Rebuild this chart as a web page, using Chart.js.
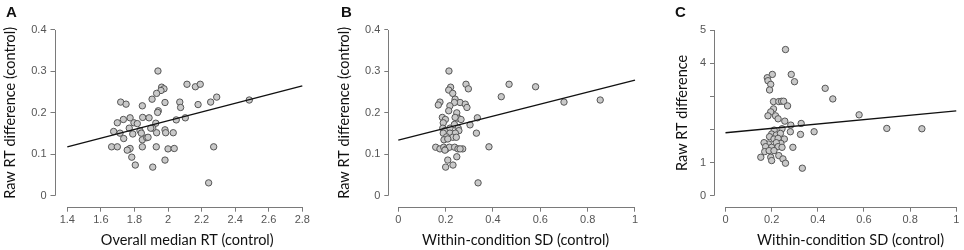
<!DOCTYPE html>
<html>
<head>
<meta charset="utf-8">
<script src="https://cdn.jsdelivr.net/npm/chart.js@4.4.1/dist/chart.umd.min.js"></script>
<style>
  html, body { margin: 0; padding: 0; background: #fff; overflow: hidden; }
  body { width: 964px; height: 250px; position: relative; }
  .wrap { position: absolute; top: 0; height: 250px; }
  .letter { position: absolute; font: bold 15px "Liberation Sans", Arial, sans-serif; color: #111; line-height: 15px; }
</style>
</head>
<body>
<div class="wrap" style="left:0;width:330px"><canvas id="cA" width="330" height="250"></canvas></div>
<div class="wrap" style="left:334px;width:320px"><canvas id="cB" width="320" height="250"></canvas></div>
<div class="wrap" style="left:672px;width:320px"><canvas id="cC" width="320" height="250"></canvas></div>
<div class="letter" style="left:6px;top:4px">A</div>
<div class="letter" style="left:341px;top:4px">B</div>
<div class="letter" style="left:675px;top:4px">C</div>
<script>
// ---------- Data ----------
// Panel A: overall median RT (control) vs raw RT difference (control)
const aX = [1.940,2.113,2.163,2.192,1.962,1.976,1.958,1.932,1.905,1.718,1.750,1.847,1.982,2.070,2.075,2.179,2.254,2.290,2.484,1.942,1.938,1.734,1.698,1.774,1.849,1.887,1.797,1.817,1.927,1.909,2.049,2.103,1.676,1.714,1.769,1.790,1.833,1.841,1.897,1.932,1.982,1.986,2.031,1.736,1.847,1.873,1.881,1.664,1.698,1.768,1.774,1.757,1.847,1.930,2.000,2.037,2.272,1.784,1.805,1.909,1.982,2.242];
const aY = [0.301,0.269,0.263,0.269,0.262,0.258,0.254,0.247,0.233,0.226,0.221,0.217,0.225,0.226,0.213,0.220,0.226,0.238,0.231,0.205,0.201,0.184,0.176,0.188,0.189,0.188,0.176,0.174,0.175,0.163,0.183,0.188,0.155,0.151,0.163,0.149,0.157,0.151,0.163,0.152,0.159,0.152,0.152,0.138,0.135,0.140,0.141,0.118,0.118,0.112,0.114,0.110,0.118,0.118,0.113,0.114,0.118,0.093,0.074,0.069,0.086,0.031];
const aFitX = [1.4, 2.8];
const aFitY = [0.118, 0.265];

// Panel B: within-condition SD (control) vs raw RT difference (control)
const bX = [0.214,0.286,0.296,0.468,0.580,0.435,0.700,0.853,0.221,0.213,0.230,0.240,0.261,0.283,0.290,0.237,0.218,0.176,0.169,0.213,0.247,0.186,0.199,0.253,0.265,0.334,0.190,0.240,0.237,0.303,0.188,0.197,0.218,0.253,0.256,0.190,0.218,0.241,0.330,0.204,0.230,0.245,0.193,0.209,0.158,0.176,0.192,0.203,0.216,0.238,0.252,0.272,0.383,0.197,0.261,0.247,0.209,0.231,0.200,0.337];
const bY = [0.301,0.269,0.258,0.269,0.263,0.239,0.226,0.231,0.262,0.255,0.247,0.233,0.225,0.221,0.213,0.225,0.217,0.226,0.219,0.205,0.200,0.189,0.184,0.187,0.184,0.188,0.176,0.189,0.172,0.171,0.163,0.157,0.163,0.163,0.157,0.151,0.151,0.151,0.151,0.142,0.141,0.141,0.135,0.137,0.117,0.113,0.117,0.113,0.117,0.117,0.113,0.113,0.118,0.110,0.113,0.094,0.086,0.074,0.069,0.031];
const bFitX = [0, 1];
const bFitY = [0.134, 0.279];

// Panel C: within-condition SD (control) vs raw RT difference
const cX = [0.260,0.203,0.181,0.184,0.196,0.191,0.285,0.299,0.432,0.465,0.208,0.231,0.243,0.252,0.269,0.208,0.196,0.184,0.217,0.228,0.257,0.283,0.328,0.384,0.325,0.281,0.245,0.211,0.200,0.220,0.238,0.255,0.191,0.210,0.228,0.240,0.220,0.186,0.167,0.174,0.200,0.228,0.245,0.292,0.170,0.189,0.210,0.153,0.196,0.200,0.231,0.249,0.260,0.333,0.579,0.699,0.851];
const cY = [4.41,3.66,3.56,3.47,3.36,3.19,3.66,3.44,3.24,2.92,2.84,2.84,2.85,2.85,2.71,2.62,2.53,2.41,2.41,2.32,2.25,2.13,2.18,1.93,1.85,1.93,2.02,1.98,1.86,1.83,1.88,1.71,1.78,1.71,1.73,1.58,1.60,1.56,1.60,1.48,1.46,1.48,1.46,1.46,1.33,1.36,1.36,1.16,1.16,1.06,1.21,1.11,0.98,0.83,2.44,2.03,2.02];
const cFitX = [0, 1];
const cFitY = [1.90, 2.56];

// Tick values / labels
const aXTicks = [1.4,1.6,1.8,2.0,2.2,2.4,2.6,2.8];
const aXTickLabels = ['1.4','1.6','1.8','2','2.2','2.4','2.6','2.8'];
const abYTicks = [0,0.1,0.2,0.3,0.4];
const abYTickLabels = ['0','0.1','0.2','0.3','0.4'];
const sdXTicks = [0,0.2,0.4,0.6,0.8,1];
const sdXTickLabels = ['0','0.2','0.4','0.6','0.8','1'];
const cYTicks = [0,1,2,3,4,5];
const cYTickLabels = ['0','1','','','4','5'];

const xTitleA = 'Overall median RT (control)';
const xTitleBC = 'Within-condition SD (control)';
const yTitleAB = 'Raw RT difference (control)';
const yTitleC = 'Raw RT difference';

// ---------- Styling ----------
const tickFont = { family: '"Liberation Sans", Arial, sans-serif', size: 11 };
const titleFont = { family: 'Lato, "Open Sans", sans-serif', size: 14.5, lineHeight: 1.2 };
const tickColor = '#555';
const axisColor = '#7a7a7a';

const rAxis = {
  id: 'rAxis',
  afterDraw(chart) {
    const ctx = chart.ctx;
    const a = chart.chartArea;
    const xs = chart.scales.x, ys = chart.scales.y;
    ctx.save();
    ctx.strokeStyle = axisColor;
    ctx.lineWidth = 1;
    ctx.beginPath();
    const xt = xs.ticks, yt = ys.ticks;
    const bx = Math.round(a.bottom) + 0.5;
    ctx.moveTo(xs.getPixelForValue(xt[0].value), bx);
    ctx.lineTo(xs.getPixelForValue(xt[xt.length-1].value), bx);
    const lx = Math.round(a.left) + 0.5;
    ctx.moveTo(lx, ys.getPixelForValue(yt[0].value));
    ctx.lineTo(lx, ys.getPixelForValue(yt[yt.length-1].value));
    ctx.stroke();
    ctx.restore();
  }
};

function makeChart(id, cfg) {
  const pts = cfg.xs.map((x, i) => ({ x, y: cfg.ys[i] }));
  const fit = cfg.fitX.map((x, i) => ({ x, y: cfg.fitY[i] }));
  return new Chart(document.getElementById(id), {
    type: 'scatter',
    data: {
      datasets: [
        { data: pts, pointRadius: 3.2, pointBorderWidth: 1, pointBorderColor: '#555',
          pointBackgroundColor: '#c9c9c9', order: 2 },
        { type: 'line', data: fit, borderColor: '#111', borderWidth: 1.4, pointRadius: 0,
          fill: false, tension: 0, order: 1 }
      ]
    },
    options: {
      responsive: false, animation: false, devicePixelRatio: 1,
      layout: { padding: { top: 19, right: cfg.padRight, left: 0, bottom: 0 } },
      plugins: { legend: { display: false }, tooltip: { enabled: false } },
      scales: {
        x: {
          type: 'linear', min: cfg.xMin, max: cfg.xMax,
          afterBuildTicks: s => { s.ticks = cfg.xTicks.map(v => ({ value: v })); },
          afterFit: s => { s.height = 43.3; s.paddingLeft = 0; s.paddingRight = 0; },
          border: { display: false },
          grid: { drawOnChartArea: false, drawTicks: true, tickLength: 5, color: axisColor, lineWidth: 1 },
          ticks: { font: tickFont, color: tickColor, padding: 2, maxRotation: 0, autoSkip: false,
                   callback: (v, i) => cfg.xLabels[i] },
          title: { display: true, text: cfg.xTitle, font: titleFont, color: '#111', padding: { top: 0, bottom: 1.3 } }
        },
        y: {
          type: 'linear', min: cfg.yMin, max: cfg.yMax,
          afterBuildTicks: s => { s.ticks = cfg.yTicks.map(v => ({ value: v })); },
          afterFit: s => { s.width = cfg.yWidth; s.paddingTop = 0; s.paddingBottom = 0; },
          border: { display: false },
          grid: { drawOnChartArea: false, drawTicks: true, tickLength: 4, color: axisColor, lineWidth: 1 },
          ticks: { font: tickFont, color: tickColor, padding: 4, autoSkip: false,
                   callback: (v, i) => cfg.yLabels[i] },
          title: { display: true, text: cfg.yTitle, font: titleFont, color: '#111', padding: { top: 1.5, bottom: 0 } }
        }
      }
    },
    plugins: [rAxis]
  });
}

makeChart('cA', {
  xs: aX, ys: aY, fitX: aFitX, fitY: aFitY,
  xMin: 1.3237, xMax: 2.9054, xTicks: aXTicks, xLabels: aXTickLabels,
  yMin: -0.02655, yMax: 0.42655, yTicks: abYTicks, yLabels: abYTickLabels,
  xTitle: xTitleA, yTitle: yTitleAB, yWidth: 54.5, padRight: 10
});
makeChart('cB', {
  xs: bX, ys: bY, fitX: bFitX, fitY: bFitY,
  xMin: -0.04225, xMax: 1.0338, xTicks: sdXTicks, xLabels: sdXTickLabels,
  yMin: -0.02655, yMax: 0.42655, yTicks: abYTicks, yLabels: abYTickLabels,
  xTitle: xTitleBC, yTitle: yTitleAB, yWidth: 54.3, padRight: 11
});
makeChart('cC', {
  xs: cX, ys: cY, fitX: cFitX, fitY: cFitY,
  xMin: -0.0498, xMax: 1.1332, xTicks: sdXTicks, xLabels: sdXTickLabels,
  yMin: -0.332, yMax: 5.332, yTicks: cYTicks, yLabels: cYTickLabels,
  xTitle: xTitleBC, yTitle: yTitleC, yWidth: 42, padRight: 0
});
</script>
</body>
</html>
